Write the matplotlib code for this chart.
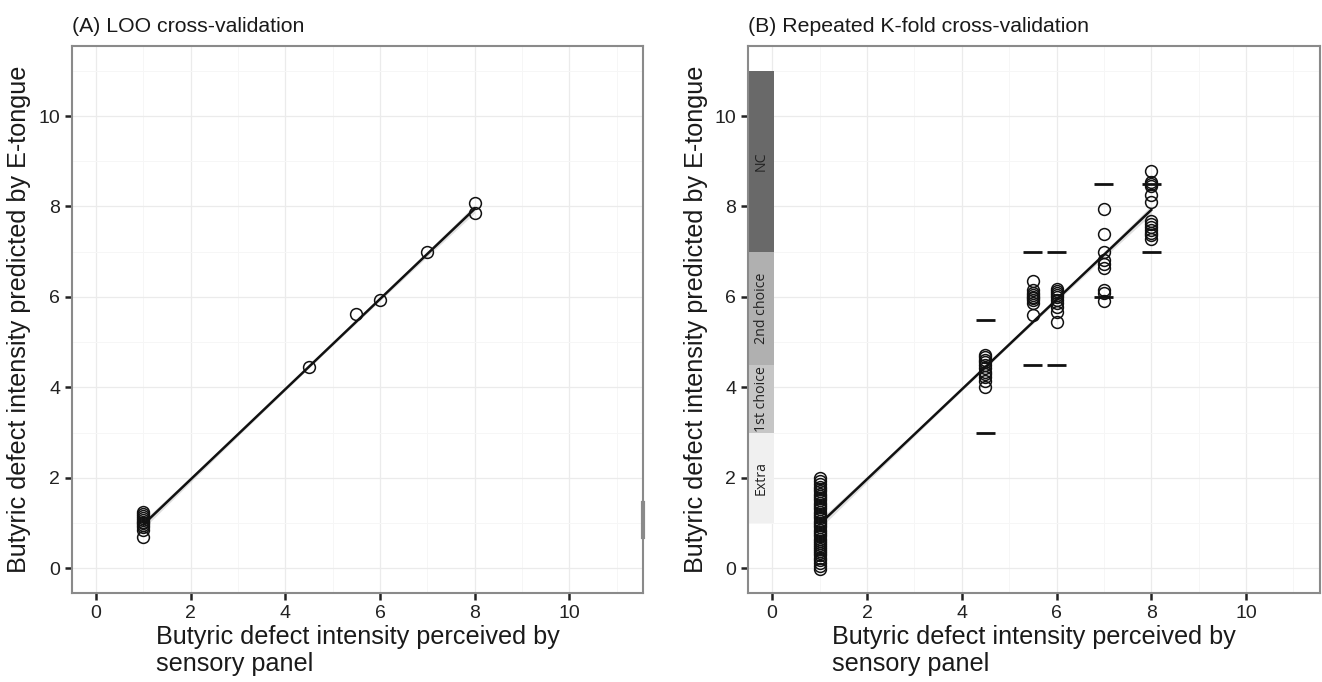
import matplotlib
matplotlib.use("Agg")
import matplotlib.pyplot as plt
import numpy as np

plt.rcParams['font.family'] = ['Liberation Sans', 'DejaVu Sans']

# ---------------- data ----------------
# Panel A: LOO cross-validation (perceived, predicted)
loo_x = [1, 1, 1, 1, 1, 1, 1, 1, 1, 1, 1, 4.5, 5.5, 6, 7, 8, 8]
loo_y = [0.68, 0.84, 0.9, 0.95, 1.0, 1.03, 1.07, 1.1, 1.15, 1.2, 1.24,
         4.46, 5.62, 5.93, 7.0, 8.08, 7.86]
loo_fit = (-0.03, 0.997)           # intercept, slope
loo_fit_range = (1, 8)

# Panel B: repeated K-fold cross-validation
kf_x1_y = [-0.02, 0.05, 0.12, 0.18, 0.22, 0.28, 0.33, 0.38, 0.42, 0.47, 0.52,
           0.56, 0.6, 0.65, 0.7, 0.75, 0.8, 0.85, 0.9, 0.95, 1.0, 1.05, 1.1,
           1.15, 1.2, 1.25, 1.3, 1.35, 1.4, 1.45, 1.5, 1.55, 1.6, 1.65, 1.7,
           1.75, 1.8, 1.86, 1.92, 2.0]
kf_x45_y = [4.0, 4.15, 4.23, 4.3, 4.34, 4.42, 4.49, 4.55, 4.6, 4.66, 4.71]
kf_x55_y = [5.6, 5.86, 5.93, 5.97, 6.0, 6.05, 6.08, 6.15, 6.35]
kf_x6_y = [5.44, 5.66, 5.77, 5.86, 5.93, 6.0, 6.05, 6.08, 6.13, 6.17]
kf_x7_y = [5.9, 6.08, 6.15, 6.65, 6.72, 6.81, 7.0, 7.39, 7.94]
kf_x8_y = [7.28, 7.36, 7.42, 7.48, 7.55, 7.62, 7.68, 8.1, 8.25, 8.45, 8.5,
           8.54, 8.78]
kf_groups_x = [1, 4.5, 5.5, 6, 7, 8]
kf_fit = (-0.02, 0.993)
kf_fit_range = (1, 8)

# sensory panel ranges (horizontal dashes): x, low, high
range_x = [4.5, 5.5, 6, 7, 8]
range_lo = [3.0, 4.5, 4.5, 6.0, 7.0]
range_hi = [5.5, 7.0, 7.0, 8.5, 8.5]

# quality class bands on the y-axis
class_names = ["Extra", "1st choice", "2nd choice", "NC"]
class_lo = [1.0, 3.0, 4.5, 7.0]
class_hi = [3.0, 4.5, 7.0, 11.0]
class_colors = ["#f0f0f0", "#c6c6c6", "#b0b0b0", "#696969"]

ticks = [0, 2, 4, 6, 8, 10]
minor_ticks = [1, 3, 5, 7, 9, 11]
xlabel = "Butyric defect intensity perceived by\nsensory panel"
ylabel = "Butyric defect intensity predicted by E-tongue"
titles = ["(A) LOO cross-validation", "(B) Repeated K-fold cross-validation"]

# ---------------- figure ----------------
W, H = 1322, 682
fig = plt.figure(figsize=(W / 100, H / 100), dpi=100)
axA = fig.add_axes([72 / W, (H - 593) / H, (643 - 72) / W, (593 - 46) / H])
axB = fig.add_axes([748 / W, (H - 593) / H, (1320 - 748) / W, (593 - 46) / H])


def style(ax, title):
    ax.set_xlim(-0.51, 11.56)
    ax.set_ylim(-0.55, 11.55)
    ax.set_xticks(ticks)
    ax.set_yticks(ticks)
    ax.set_xticks(minor_ticks, minor=True)
    ax.set_yticks(minor_ticks, minor=True)
    ax.tick_params(which='minor', length=0)
    ax.tick_params(which='major', length=5, width=1.8, color='#222222',
                   labelsize=14, pad=3.5, labelcolor='#222222')
    ax.grid(which='major', color='#ebebeb', lw=0.9)
    ax.grid(which='minor', color='#f6f6f6', lw=0.7)
    ax.set_axisbelow(True)
    for s in ax.spines.values():
        s.set_color('#8a8a8a')
        s.set_linewidth(1.5)
    ax.set_xlabel(xlabel, fontsize=18.2, multialignment='left', labelpad=2,
                  color='#1a1a1a', linespacing=1.2)
    ax.set_ylabel(ylabel, fontsize=18.2, labelpad=5, color='#1a1a1a')
    ax.set_title(title, loc='left', fontsize=15.3, pad=10, color='#1a1a1a')


def fit_line(ax, fit, rng, se_end, se_mid):
    xs = np.linspace(rng[0], rng[1], 80)
    ys = fit[0] + fit[1] * xs
    mid = (rng[0] + rng[1]) / 2
    half = (rng[1] - rng[0]) / 2
    se = se_mid + (se_end - se_mid) * ((xs - mid) / half) ** 2
    ax.fill_between(xs, ys - se, ys + se, color='#cccccc', alpha=0.6, lw=0,
                    zorder=2)
    ax.plot(xs, ys, color='#111111', lw=1.8, zorder=3)


mk = dict(marker='o', ls='none', ms=8.5, mfc='none', mec='#111111', mew=1.1,
          zorder=4)

# Panel A
style(axA, titles[0])
fit_line(axA, loo_fit, loo_fit_range, 0.09, 0.03)
axA.plot(loo_x, loo_y, **mk)
axA.plot([0.9995, 0.9995], [0.69, 1.44], transform=axA.get_yaxis_transform(),
         color='#8a8a8a', lw=3, zorder=5, clip_on=False)

# Panel B
style(axB, titles[1])
for name, lo, hi, c in zip(class_names, class_lo, class_hi, class_colors):
    axB.add_patch(plt.Rectangle((-1.0, lo), 1.04, hi - lo, color=c, lw=0,
                                zorder=1.5))
    axB.text(-0.23, (lo + hi) / 2, name, rotation=90, ha='center',
             va='center', fontsize=10.2, family=['Open Sans', 'DejaVu Sans'],
             color='#222222', zorder=1.6)

fit_line(axB, kf_fit, kf_fit_range, 0.1, 0.03)
groups = [kf_x1_y, kf_x45_y, kf_x55_y, kf_x6_y, kf_x7_y, kf_x8_y]
for gx, gy in zip(kf_groups_x, groups):
    axB.plot([gx] * len(gy), gy, **mk)

for x, lo, hi in zip(range_x, range_lo, range_hi):
    axB.hlines([lo, hi], x - 0.2, x + 0.2, color='#111111', lw=2, zorder=4)

fig.savefig("out.png", dpi=100)
